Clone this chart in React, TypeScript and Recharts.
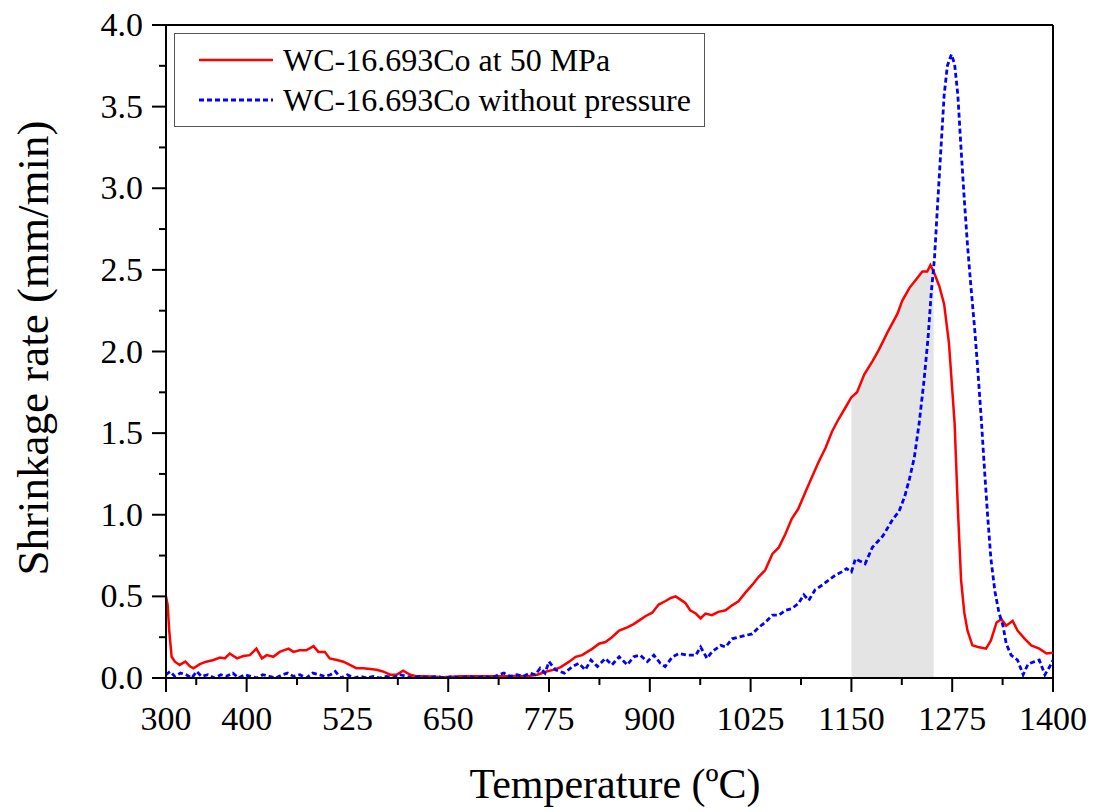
import { Area, ComposedChart, Line, ReferenceLine, XAxis, YAxis } from "recharts";

const FONT = "'Liberation Serif', 'Times New Roman', serif";

// WC-16.693Co at 50 MPa
const redTemps = [
  300, 302, 304, 307, 311, 317, 324, 330, 334, 342, 350, 359, 367, 373, 379, 388, 396, 404, 412, 419,
  425, 433, 441, 452, 458, 466, 474, 483, 489, 497, 503, 512, 520, 528, 536, 545, 553, 561, 569, 578,
  586, 594, 603, 611, 623, 644, 665, 681, 698, 714, 731, 747, 760, 772, 780, 789, 800, 808, 816, 829,
  837, 845, 853, 862, 872, 880, 886, 895, 903, 911, 919, 926, 932, 938, 944, 950, 957, 963, 969, 977,
  985, 994, 1002, 1010, 1018, 1027, 1035, 1043, 1052, 1060, 1068, 1076, 1084, 1093, 1101, 1109, 1118, 1126, 1134, 1143,
  1150, 1157, 1166, 1176, 1184, 1195, 1207, 1213, 1222, 1230, 1238, 1244, 1248, 1252, 1259, 1265, 1271, 1278, 1282, 1286,
  1290, 1294, 1300, 1307, 1317, 1323, 1330, 1336, 1342, 1350, 1356, 1365, 1373, 1383, 1392, 1400,
];
const redRates = [
  0.5, 0.45, 0.29, 0.13, 0.1, 0.08, 0.1, 0.07, 0.06, 0.085, 0.1, 0.11, 0.125, 0.12, 0.15, 0.12, 0.135, 0.14, 0.18, 0.12,
  0.14, 0.13, 0.16, 0.18, 0.16, 0.17, 0.17, 0.195, 0.16, 0.16, 0.12, 0.11, 0.1, 0.08, 0.06, 0.06, 0.055, 0.05, 0.04, 0.02,
  0.02, 0.045, 0.02, 0.01, 0.01, 0.005, 0.01, 0.01, 0.01, 0.01, 0.012, 0.01, 0.02, 0.04, 0.05, 0.065, 0.1, 0.13, 0.14, 0.18,
  0.21, 0.22, 0.25, 0.29, 0.31, 0.33, 0.35, 0.38, 0.4, 0.45, 0.47, 0.49, 0.5, 0.48, 0.46, 0.415, 0.395, 0.365, 0.395, 0.385,
  0.405, 0.415, 0.445, 0.47, 0.52, 0.57, 0.62, 0.66, 0.76, 0.8, 0.88, 0.975, 1.035, 1.14, 1.23, 1.32, 1.41, 1.51, 1.585, 1.66,
  1.72, 1.75, 1.86, 1.94, 2.01, 2.12, 2.23, 2.31, 2.39, 2.44, 2.49, 2.49, 2.53, 2.49, 2.4, 2.29, 2.05, 1.56, 1.04, 0.6,
  0.4, 0.29, 0.2, 0.19, 0.18, 0.23, 0.34, 0.36, 0.32, 0.35, 0.29, 0.24, 0.2, 0.18, 0.15, 0.155,
];

// WC-16.693Co without pressure
const blueTemps = [
  300, 305, 311, 318, 325, 332, 338, 344, 352, 360, 368, 375, 383, 390, 398, 405, 413, 420, 428, 436,
  444, 451, 458, 466, 474, 482, 490, 497, 504, 510, 517, 525, 533, 541, 549, 557, 565, 573, 581, 590,
  598, 606, 615, 625, 635, 645, 655, 665, 675, 685, 695, 704, 712, 719, 727, 735, 743, 751, 758, 764,
  770, 775, 783, 794, 804, 812, 820, 827, 835, 845, 853, 862, 872, 880, 888, 897, 905, 913, 919, 928,
  936, 946, 957, 963, 971, 977, 988, 994, 1002, 1010, 1018, 1027, 1035, 1043, 1052, 1060, 1068, 1076, 1084, 1091,
  1097, 1105, 1114, 1122, 1130, 1138, 1144, 1150, 1155, 1159, 1167, 1176, 1189, 1201, 1209, 1216, 1222, 1228, 1234, 1240,
  1245, 1249, 1253, 1257, 1261, 1265, 1269, 1274, 1278, 1282, 1286, 1290, 1294, 1298, 1303, 1307, 1311, 1315, 1319, 1323,
  1328, 1333, 1338, 1342, 1348, 1356, 1363, 1369, 1377, 1383, 1390, 1396, 1400,
];
const blueRates = [
  0.02, 0.04, 0.01, 0.03, 0.02, 0.0, 0.04, 0.01, 0.02, 0.0, 0.02, 0.01, 0.03, 0.0, 0.02, 0.01, 0.0, 0.02, 0.01, 0.0,
  0.02, 0.03, 0.01, 0.02, 0.0, 0.03, 0.02, 0.01, 0.02, 0.04, 0.0, 0.02, 0.0, 0.01, 0.0, 0.01, 0.0, 0.01, 0.0, 0.02,
  0.01, 0.0, 0.01, 0.0, 0.01, 0.0, 0.01, 0.0, 0.01, 0.0, 0.01, 0.0, 0.02, 0.03, 0.01, 0.02, 0.01, 0.03, 0.02, 0.06,
  0.03, 0.1, 0.05, 0.03, 0.07, 0.09, 0.05, 0.11, 0.07, 0.12, 0.08, 0.13, 0.08, 0.13, 0.14, 0.1, 0.14, 0.09, 0.07, 0.13,
  0.15, 0.14, 0.14, 0.19, 0.12, 0.16, 0.2, 0.19, 0.24, 0.25, 0.26, 0.27, 0.31, 0.34, 0.385, 0.385, 0.415, 0.425, 0.455, 0.51,
  0.475, 0.54, 0.57, 0.6, 0.63, 0.65, 0.67, 0.65, 0.73, 0.72, 0.7, 0.8, 0.87, 0.97, 1.02, 1.11, 1.22, 1.35, 1.56, 1.82,
  2.08, 2.36, 2.57, 2.91, 3.24, 3.57, 3.75, 3.82, 3.76, 3.57, 3.24, 2.93, 2.65, 2.41, 2.13, 1.87, 1.59, 1.28, 0.99, 0.73,
  0.53, 0.4, 0.32, 0.21, 0.14, 0.11, 0.02, 0.085, 0.1, 0.11, 0.02, 0.07, 0.11,
];

const redName = "WC-16.693Co at 50 MPa";
const blueName = "WC-16.693Co without pressure";

const shadeStart = 1150;
const shadeEnd = 1252;

const xMajorTicks = [300, 400, 525, 650, 775, 900, 1025, 1150, 1275, 1400];
const xMinorTicks = [337.5, 462.5, 587.5, 712.5, 837.5, 962.5, 1087.5, 1212.5, 1337.5];
const yMajorTicks = [0, 0.5, 1, 1.5, 2, 2.5, 3, 3.5, 4];
const yMinorTicks = [0.25, 0.75, 1.25, 1.75, 2.25, 2.75, 3.25, 3.75];

const redData = redTemps.map((t, i) => ({ t, v: redRates[i] }));
const blueData = blueTemps.map((t, i) => ({ t, v: blueRates[i] }));
const shadeData = redData.filter((p) => p.t >= shadeStart && p.t <= shadeEnd);

const xTicks = [...xMajorTicks, ...xMinorTicks].sort((a, b) => a - b);
const yTicks = [...yMajorTicks, ...yMinorTicks].sort((a, b) => a - b);

const RED = "#ff0000";
const BLUE = "#0000ff";
const BLUE_DASH = "5 3";

const legendItems = [
  { name: redName, color: RED, width: 2.5, dash: undefined },
  { name: blueName, color: BLUE, width: 2.8, dash: BLUE_DASH },
];

function XTick({ x, y, payload }: any) {
  const major = xMajorTicks.includes(payload.value);
  return (
    <g>
      <line x1={x} y1={y} x2={x} y2={y + (major ? 14 : 7)} stroke="#000" strokeWidth={2} />
      {major && (
        <text x={x} y={y + 52} textAnchor="middle" fontFamily={FONT} fontSize={34} fill="#000">
          {payload.value}
        </text>
      )}
    </g>
  );
}

function YTick({ x, y, payload }: any) {
  const major = yMajorTicks.includes(payload.value);
  return (
    <g>
      <line x1={x - (major ? 14 : 7)} y1={y} x2={x} y2={y} stroke="#000" strokeWidth={2} />
      {major && (
        <text x={x - 23} y={y + 11} textAnchor="end" fontFamily={FONT} fontSize={34} fill="#000">
          {payload.value.toFixed(1)}
        </text>
      )}
    </g>
  );
}

function LegendBox() {
  return (
    <div
      style={{
        position: "absolute",
        left: 174,
        top: 33,
        width: 531,
        height: 94,
        boxSizing: "border-box",
        border: "1.5px solid #555",
        background: "#fff",
        fontFamily: FONT,
        fontSize: 32,
        color: "#000",
      }}
    >
      {legendItems.map((e, i) => (
        <div key={i} style={{ display: "flex", alignItems: "center", height: 40, marginTop: i === 0 ? 6 : 0 }}>
          <svg width={108} height={20} style={{ flex: "none" }}>
            <line x1={24} y1={10} x2={98} y2={10} stroke={e.color} strokeWidth={e.width} strokeDasharray={e.dash} />
          </svg>
          <span style={{ whiteSpace: "nowrap", lineHeight: 1 }}>{e.name}</span>
        </div>
      ))}
    </div>
  );
}

export default function App() {
  return (
    <div style={{ position: "absolute", left: 0, top: 0, width: 1100, height: 812, background: "#fff" }}>
      <ComposedChart width={1100} height={812} margin={{ top: 25, right: 47, bottom: 0, left: 0 }}>
        <XAxis
          dataKey="t"
          type="number"
          domain={[300, 1400]}
          allowDataOverflow
          ticks={xTicks}
          interval={0}
          tick={<XTick />}
          tickLine={false}
          tickSize={0}
          tickMargin={0}
          height={134}
          axisLine={{ stroke: "#000", strokeWidth: 2 }}
          label={{
            content: () => (
              <text x={615} y={798} textAnchor="middle" fontFamily={FONT} fontSize={42} fill="#000">
                Temperature (ºC)
              </text>
            ),
          }}
        />
        <YAxis
          type="number"
          domain={[0, 4]}
          allowDataOverflow
          ticks={yTicks}
          interval={0}
          tick={<YTick />}
          tickLine={false}
          tickSize={0}
          tickMargin={0}
          width={166}
          axisLine={{ stroke: "#000", strokeWidth: 2 }}
          label={{
            content: () => (
              <text
                x={48}
                y={348}
                transform="rotate(-90, 48, 348)"
                textAnchor="middle"
                fontFamily={FONT}
                fontSize={45}
                fill="#000"
              >
                Shrinkage rate (mm/min)
              </text>
            ),
          }}
        />
        <ReferenceLine y={4} stroke="#000" strokeWidth={2} />
        <ReferenceLine x={1400} stroke="#000" strokeWidth={2} />
        <Area
          data={shadeData}
          dataKey="v"
          type="linear"
          fill="#e4e4e4"
          fillOpacity={1}
          stroke="none"
          legendType="none"
          isAnimationActive={false}
        />
        <Line
          data={redData}
          dataKey="v"
          name={redName}
          type="linear"
          stroke={RED}
          strokeWidth={2.5}
          dot={false}
          activeDot={false}
          isAnimationActive={false}
        />
        <Line
          data={blueData}
          dataKey="v"
          name={blueName}
          type="linear"
          stroke={BLUE}
          strokeWidth={2.8}
          strokeDasharray={BLUE_DASH}
          dot={false}
          activeDot={false}
          isAnimationActive={false}
        />
      </ComposedChart>
      <LegendBox />
    </div>
  );
}
